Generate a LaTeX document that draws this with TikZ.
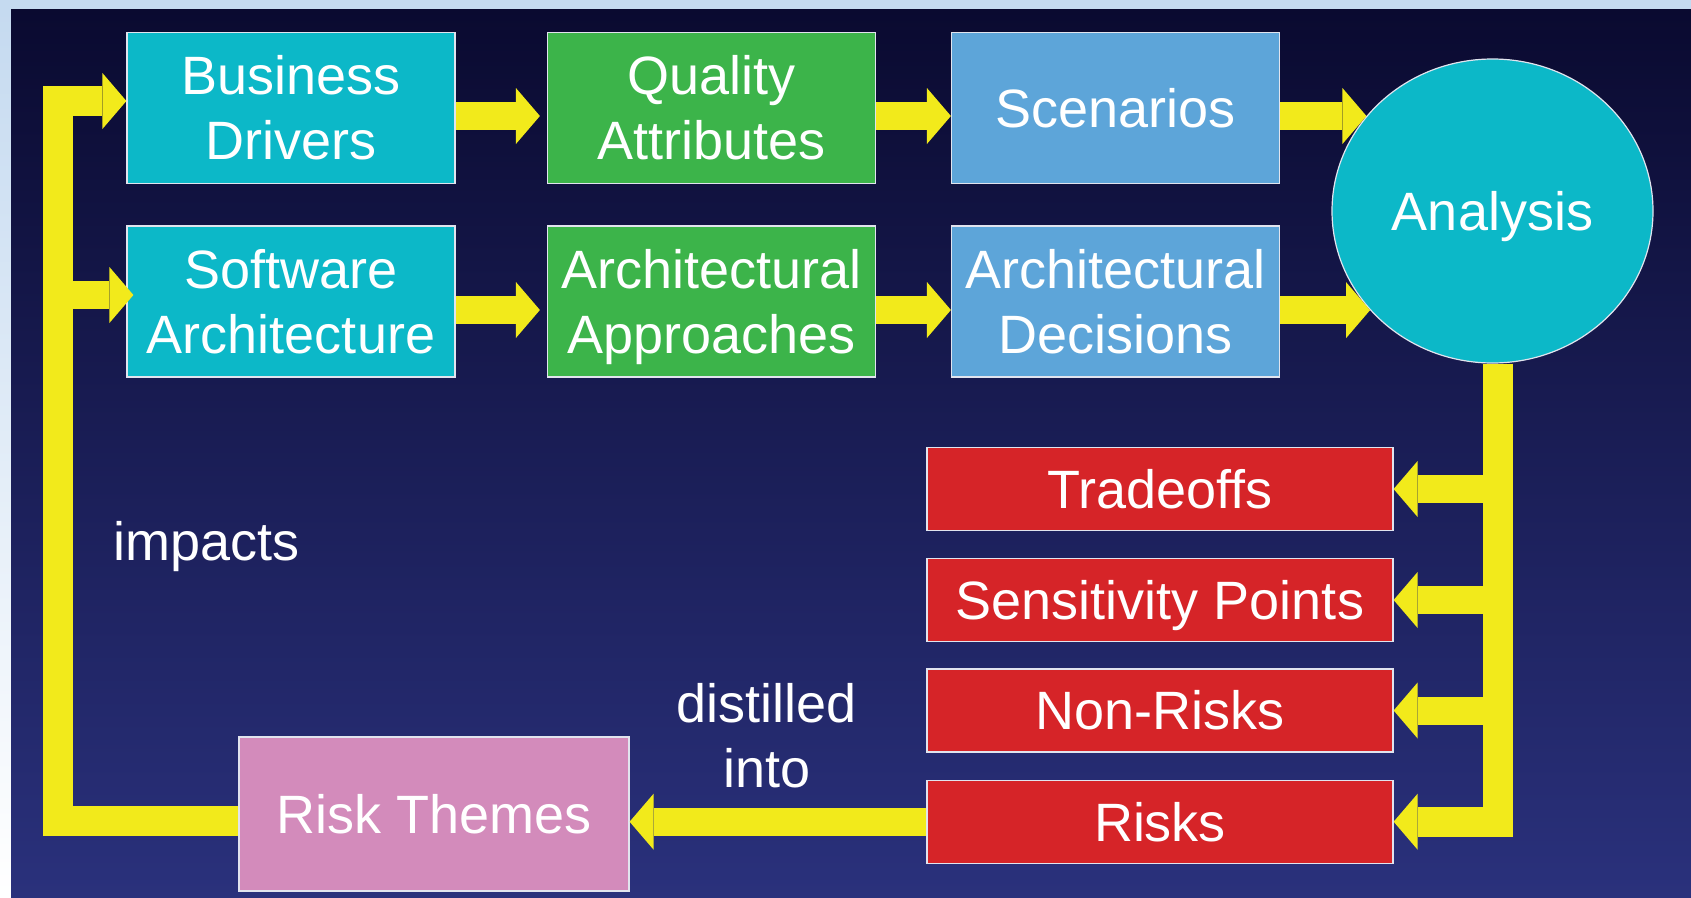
\documentclass[tikz,border=0pt]{standalone}
\usepackage{fontspec}
\setmainfont{Liberation Sans}
\usetikzlibrary{arrows.meta,shapes.geometric,calc,backgrounds}
\definecolor{cteal}{RGB}{12,184,200}
\definecolor{cgreen}{RGB}{60,180,74}
\definecolor{cblue}{RGB}{93,165,217}
\definecolor{cred}{RGB}{214,36,40}
\definecolor{cpink}{RGB}{211,139,187}
\definecolor{cyel}{RGB}{242,234,27}
\definecolor{cedge}{RGB}{225,228,238}
\definecolor{bgtop}{RGB}{10,10,48}
\definecolor{bgmid}{RGB}{36,38,100}
\definecolor{bgbot}{RGB}{42,49,124}
\definecolor{slide}{RGB}{197,218,240}
\newcommand\nodp[1]{\raisebox{0pt}[\height][0pt]{#1}}
\begin{document}
\begin{tikzpicture}[x=1pt,y=-1pt,
  bigfont/.style={font=\fontsize{54}{65}\selectfont},
  box/.style={draw=cedge, line width=1.2pt, inner sep=0pt, align=center, text=white, bigfont, minimum width=328pt, minimum height=151pt},
  redbox/.style={box, fill=cred, minimum width=466pt, minimum height=83pt},
  tipstyle/.style={-{Triangle[width=56pt,length=24pt,line width=0pt]}},
  yarr/.style={draw=cyel, line width=28pt, line join=miter, tipstyle},
  ybar/.style={draw=cyel, line width=30pt, line join=miter},
  lbl/.style={text=white, bigfont, align=center, inner sep=0pt}]
\useasboundingbox (0,0) rectangle (1691,897);

% boxes
\node[box, fill=cteal]  (BD) at (291,108)    {Business\\Drivers};
\node[box, fill=cgreen] (QA) at (711.5,108)  {Quality\\Attributes};
\node[box, fill=cblue]  (SC) at (1115.5,108) {Scenarios};
\node[box, fill=cteal]  (SA) at (291,301.5)  {Software\\Architecture};
\node[box, fill=cgreen] (AA) at (711.5,301.5) {Architectural\\\nodp{Approaches}};
\node[box, fill=cblue]  (AD) at (1115.5,301.5) {Architectural\\Decisions};
\node[ellipse, draw=cedge, line width=1.2pt, fill=cteal, text=white, bigfont,
      minimum width=321pt, minimum height=304pt, inner sep=0pt] (AN) at (1492.5,211) {\nodp{Analysis}};
\node[redbox] (TO) at (1160,489)   {Tradeoffs};
\node[redbox] (SP) at (1160,600)   {\nodp{Sensitivity Points}};
\node[redbox] (NR) at (1160,710.5) {Non-Risks};
\node[redbox] (RI) at (1160,821.7) {Risks};
\node[box, fill=cpink, minimum width=390pt, minimum height=154pt] (RT) at (434,814) {Risk Themes};

% labels
\node[lbl, anchor=base west] (imp) at (113,560) {impacts};
\node[lbl] (dist) at (767,736) {distilled\\into};

% helper coordinates
\coordinate (rb) at ([xshift=5pt]AN.south);
\coordinate (lb) at ([xshift=-68pt]BD.west);
\coordinate (bdw) at ([yshift=7pt]BD.west);
\coordinate (saw) at ([xshift=7pt,yshift=6.5pt]SA.west);

\begin{pgfonlayer}{background}
  \fill[slide] (0,0) rectangle (1691,9);
  \shade[top color=slide, middle color=white, bottom color=white] (0,9) rectangle (11,897);
  \shade[top color=bgtop, middle color=bgmid, bottom color=bgbot] (11,9) rectangle (1691,897);
  \draw[ybar, tipstyle] (rb) |- (RI.east);
\end{pgfonlayer}

% row arrows
\draw[yarr, shorten >=7pt] ([yshift=-8pt]BD.east) -- ([yshift=-8pt]QA.west);
\draw[yarr] ([yshift=-8pt]QA.east) -- ([yshift=-8pt]SC.west);
\draw[yarr, shorten >=7pt] ([yshift=-8.5pt]SA.east) -- ([yshift=-8.5pt]AA.west);
\draw[yarr] ([yshift=-8.5pt]AA.east) -- ([yshift=-8.5pt]AD.west);
\draw[yarr] (SC.east |- AN.143) -- (AN.143);
\draw[yarr] (AD.east |- AN.219) -- (AN.219);

% analysis outputs
\draw[yarr] (rb |- TO.east) -- (TO.east);
\draw[yarr] (rb |- SP.east) -- (SP.east);
\draw[yarr] (rb |- NR.east) -- (NR.east);

% distilled into
\draw[yarr] (RI.west) -- (RI.west -| RT.east);

% feedback loop
\draw[ybar, tipstyle] ([yshift=-7pt]RT.west) -| (lb |- bdw) -- (bdw);
\draw[yarr] (lb |- saw) -- (saw);
\end{tikzpicture}
\end{document}
